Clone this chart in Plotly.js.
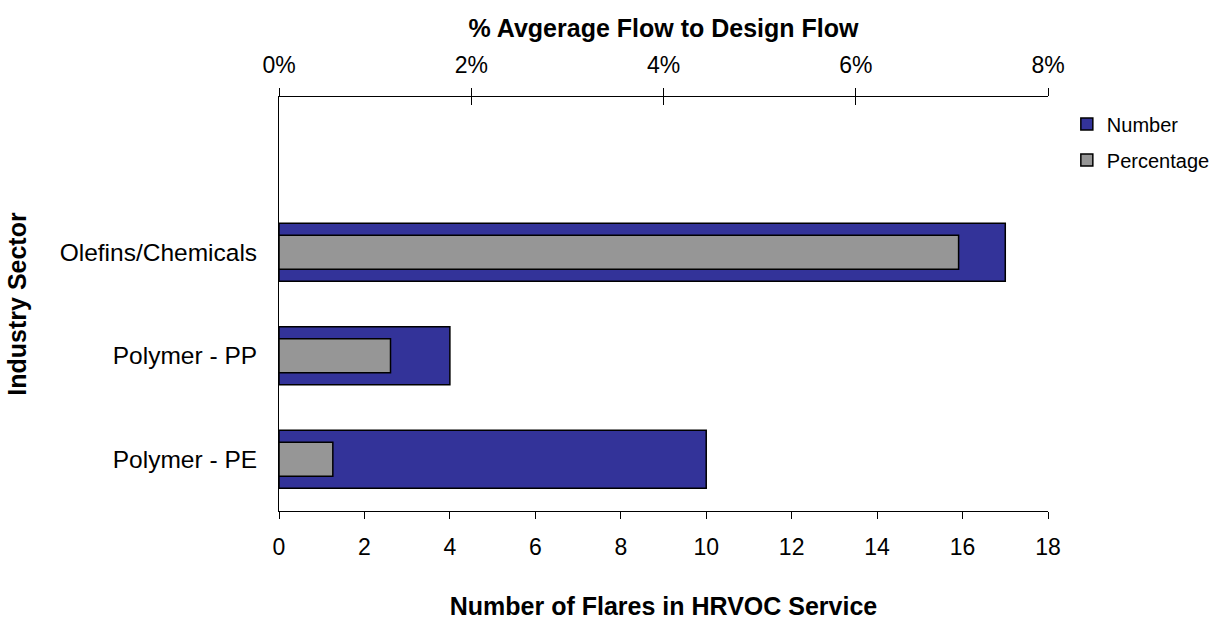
<!DOCTYPE html>
<html>
<head>
<meta charset="utf-8">
<script src="https://cdn.plot.ly/plotly-3.0.1.min.js"></script>
<style>
  html, body { margin: 0; padding: 0; background: #ffffff; }
  #chart { width: 1215px; height: 620px; }
</style>
</head>
<body>
<div id="chart"></div>
<script>
// ---- data ----
const sectors = ["Polymer - PE", "Polymer - PP", "Olefins/Chemicals"];
const numberOfFlares = [10, 4, 17];
const pctAvgToDesign = [0.0056, 0.0116, 0.0707];
const numberTicks = [0, 2, 4, 6, 8, 10, 12, 14, 16, 18];
const pctTicks = [0, 0.02, 0.04, 0.06, 0.08];
const pctTickLabels = ["0%", "2%", "4%", "6%", "8%"];

const FONT = "Liberation Sans, Arial, sans-serif";

const traces = [
  {
    type: "bar", orientation: "h", name: "Number",
    y: sectors, x: numberOfFlares,
    xaxis: "x", yaxis: "y",
    width: 0.56,
    legendgroup: "a",
    marker: { color: "#333399", line: { color: "#000000", width: 1.5 } },
    hoverinfo: "skip"
  },
  {
    type: "bar", orientation: "h", name: "Percentage",
    y: sectors, x: pctAvgToDesign,
    xaxis: "x2", yaxis: "y",
    width: 0.33,
    legendgroup: "b",
    marker: { color: "#969696", line: { color: "#000000", width: 1.5 } },
    hoverinfo: "skip"
  },
  {
    type: "scatter", mode: "markers", x: [], y: [],
    xaxis: "x3", yaxis: "y", showlegend: false, hoverinfo: "skip"
  }
];

const layout = {
  width: 1215, height: 620,
  margin: { l: 279, r: 167, t: 97, b: 109, pad: 0, autoexpand: false },
  paper_bgcolor: "#ffffff", plot_bgcolor: "#ffffff",
  font: { family: FONT, size: 20, color: "#000000" },
  barmode: "overlay",
  showlegend: true,
  legend: {
    x: 1.0245, xanchor: "left", y: 0.982, yanchor: "top",
    font: { family: FONT, size: 20, color: "#000000" },
    traceorder: "grouped", tracegroupgap: 7,
    bgcolor: "rgba(0,0,0,0)", borderwidth: 0
  },
  xaxis: {
    range: [0, 18], tickvals: numberTicks, ticktext: numberTicks.map(String),
    ticks: "outside", ticklen: 7, tickcolor: "#000000", tickwidth: 1,
    showline: true, linecolor: "#000000", linewidth: 1,
    showgrid: false, zeroline: false,
    ticklabelstandoff: 8,
    tickfont: { family: FONT, size: 23 },
    title: { text: "<b>Number of Flares in HRVOC Service</b>", font: { family: FONT, size: 25 }, standoff: 48 },
    fixedrange: true
  },
  xaxis2: {
    overlaying: "x", side: "top", anchor: "y",
    range: [0, 0.08], tickvals: pctTicks, ticktext: pctTickLabels,
    ticks: "outside", ticklen: 8, tickcolor: "#000000", tickwidth: 1,
    showline: true, linecolor: "#000000", linewidth: 1,
    showgrid: false, zeroline: false,
    ticklabelstandoff: 6,
    tickfont: { family: FONT, size: 23 },
    title: { text: "<b>% Avgerage Flow to Design Flow</b>", font: { family: FONT, size: 25 }, standoff: 7 },
    fixedrange: true
  },
  xaxis3: {
    overlaying: "x", side: "top", anchor: "y",
    range: [0, 0.08], tickvals: pctTicks,
    ticks: "inside", ticklen: 8, tickcolor: "#000000", tickwidth: 1,
    showline: false, showticklabels: false, showgrid: false, zeroline: false,
    fixedrange: true
  },
  yaxis: {
    type: "category", categoryorder: "array", categoryarray: sectors,
    range: [-0.5, 3.5],
    ticks: "", showline: true, linecolor: "#000000", linewidth: 1,
    showgrid: false, zeroline: false,
    ticklabelstandoff: 16,
    tickfont: { family: FONT, size: 24.5 },
    title: { text: "<b>Industry Sector</b>", font: { family: FONT, size: 25 }, standoff: 25 },
    fixedrange: true
  }
};

Plotly.newPlot("chart", traces, layout, { staticPlot: true, displayModeBar: false });
</script>
</body>
</html>
